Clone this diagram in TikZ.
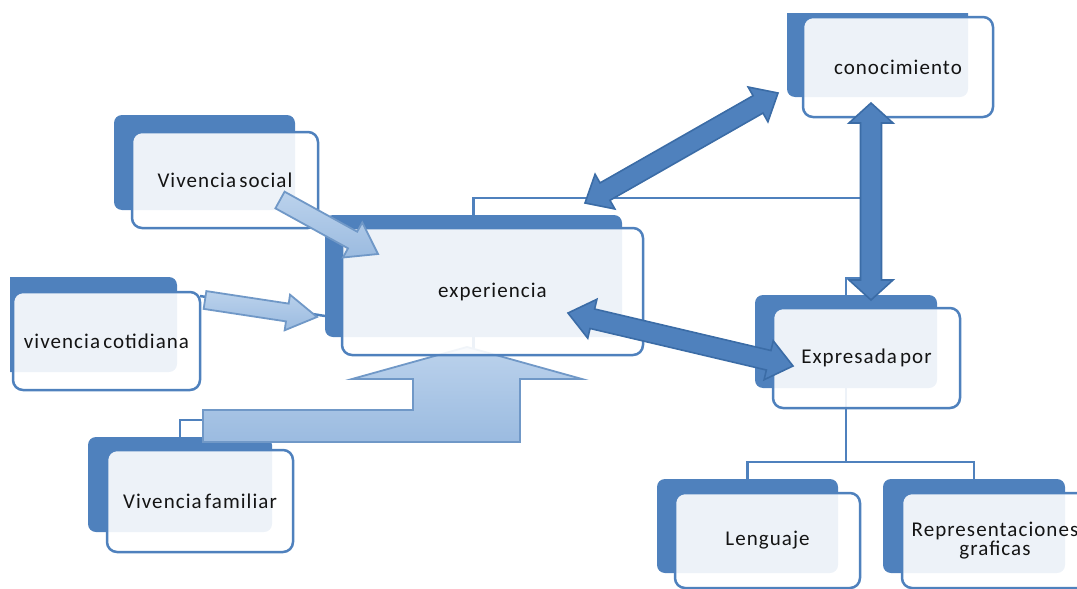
\documentclass[tikz,border=0pt]{standalone}
\usepackage{fontspec}
\newfontfamily\boxfont[LetterSpace=5,WordSpace=0.55]{Carlito}
\usetikzlibrary{calc}

\definecolor{accent}{HTML}{4F81BD}
\definecolor{accentdark}{HTML}{3B6CA6}
\definecolor{paleedge}{HTML}{7098C7}
\definecolor{paletop}{HTML}{BBD2EC}
\definecolor{palebot}{HTML}{9BBBE0}
\definecolor{ink}{HTML}{141414}

% single block arrow: style, tail, tip, shaft half-width, head half-width, head length
\newcommand\blockarrow[6]{%
  \coordinate (ah) at ($(#3)!#6!(#2)$);
  \path[#1] ($(#2)!#4!90:(#3)$) -- ($(ah)!#4!90:(#3)$) -- ($(ah)!#5!90:(#3)$)
    -- (#3) -- ($(ah)!#5!-90:(#3)$) -- ($(ah)!#4!-90:(#3)$) -- ($(#2)!#4!-90:(#3)$) -- cycle;
}
% double block arrow: style, end a, end b, shaft half-width, head half-width, head length
\newcommand\twowayarrow[6]{%
  \coordinate (ha) at ($(#2)!#6!(#3)$);
  \coordinate (hb) at ($(#3)!#6!(#2)$);
  \path[#1] (#2) -- ($(ha)!#5!90:(#3)$) -- ($(ha)!#4!90:(#3)$) -- ($(hb)!#4!90:(#3)$)
    -- ($(hb)!#5!90:(#3)$) -- (#3) -- ($(hb)!#5!-90:(#3)$) -- ($(hb)!#4!-90:(#3)$)
    -- ($(ha)!#4!-90:(#3)$) -- ($(ha)!#5!-90:(#3)$) -- cycle;
}

\tikzset{
  back/.style={fill=accent, rounded corners=8pt, inner sep=0pt},
  front/.style={draw=accent, line width=2.5pt, fill=white, fill opacity=0.9, text opacity=1,
    rounded corners=10pt, inner sep=0pt, text=ink, align=center,
    font=\boxfont\fontsize{21}{19}\selectfont},
  conn/.style={draw=accent, line width=2.5pt},
  palearrow/.style={draw=paleedge, line width=1.8pt, top color=paletop, bottom color=palebot},
  darkarrow/.style={draw=accentdark, line width=1.6pt, fill=accent},
}

\begin{document}
\begin{tikzpicture}[x=1pt, y=-1pt]
\useasboundingbox (0,0) rectangle (1077,589);
\clip (0,0) rectangle (1077,589);

% dark backing panels
\node[back, minimum width=181pt, minimum height=95pt] (socb) at (204.5,162.5) {};
\begin{scope}
  \clip (10,0) rectangle (1077,589);
  \node[back, minimum width=181pt, minimum height=95pt] (cotb) at (86.5,324.5) {};
\end{scope}
\node[back, minimum width=297pt, minimum height=122pt] (expb) at (473.5,276) {};
\begin{scope}
  \clip (0,13) rectangle (1077,589);
  \node[back, minimum width=181pt, minimum height=95pt] (conb) at (877.5,49.5) {};
\end{scope}
\node[back, minimum width=182pt, minimum height=93pt] (exprb) at (846,341.5) {};
\node[back, minimum width=181pt, minimum height=94pt] (lenb) at (747.5,526) {};
\node[back, minimum width=182pt, minimum height=94pt] (repb) at (974,526) {};
\node[back, minimum width=184pt, minimum height=95pt] (famb) at (180,484.5) {};

% hierarchy connectors
\coordinate (j1) at (870,198);
\coordinate (j2) at (846,278);
\coordinate (j3) at (300,420);
\coordinate (j4) at (846,462);
\coordinate (c1) at (200,296);
\coordinate (c2) at (325,316);
\draw[conn] (expb.north) |- (j1) |- (j2) -- (exprb.north);
\draw[conn] (famb.north) |- (j3) -| (expb.south);
\draw[conn] (exprb.south) -- (j4) -| (lenb.north);
\draw[conn] (j4) -| (repb.north);
\draw[conn] (c1) -- (c2);

% bent arrow rising from the family box
\path[palearrow] (203,410) -- (413,410) -- (413,379) -- (352,379) -- (467,347)
  -- (582,379) -- (520,379) -- (520,442) -- (203,442) -- cycle;

% front panels with labels
\node[front, minimum width=186pt, minimum height=96pt] (soc) at (225,180) {Vivencia social};
\node[front, minimum width=187pt, minimum height=98pt] (cot) at (106.5,341) {vivencia cotidiana};
\node[front, minimum width=301pt, minimum height=127pt] (exp) at (492.5,291.5) {experiencia};
\node[front, minimum width=190pt, minimum height=100pt] (con) at (898,67) {conocimiento};
\node[front, minimum width=187pt, minimum height=100pt] (expr) at (866.5,358) {Expresada por};
\node[front, minimum width=185pt, minimum height=95pt] (len) at (767.5,540.5) {Lenguaje};
\node[front, minimum width=186pt, minimum height=95pt] (rep) at (995,540.5) {Representaciones\\graficas};
\node[front, minimum width=186pt, minimum height=102pt] (fam) at (200,501) {Vivencia familiar};

% block arrows
\coordinate (sa) at (280,200);
\coordinate (sb) at (378,254);
\coordinate (ca) at (205,300);
\coordinate (cb) at (317,317);
\blockarrow{palearrow}{sa}{sb}{9.5pt}{20pt}{29pt}
\blockarrow{palearrow}{ca}{cb}{9pt}{18pt}{30pt}

\coordinate (ka) at (585,203);
\coordinate (kb) at (778,93);
\coordinate (va) at (871,103);
\coordinate (vb) at (871,300);
\coordinate (ea) at (568,313);
\coordinate (eb) at (793,366);
\twowayarrow{darkarrow}{ka}{kb}{10pt}{20pt}{23pt}
\twowayarrow{darkarrow}{va}{vb}{10.5pt}{22pt}{20pt}
\twowayarrow{darkarrow}{ea}{eb}{10pt}{20pt}{25pt}
\end{tikzpicture}
\end{document}
